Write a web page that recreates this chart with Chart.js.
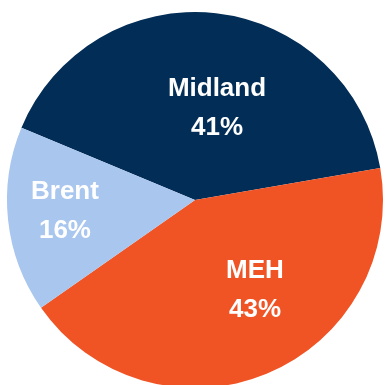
<!DOCTYPE html>
<html>
<head>
<meta charset="utf-8">
<title>Crude supply mix</title>
<script src="https://cdn.jsdelivr.net/npm/chart.js@4.4.1/dist/chart.umd.min.js"></script>
<style>
    html, body { margin: 0; padding: 0; background: #fff; overflow: hidden; }
    #wrap { position: absolute; left: 0; top: 0; width: 385px; height: 400px; }
</style>
</head>
<body>
<div id="wrap"><canvas id="mixChart" width="385" height="400"></canvas></div>
<script>
// Supply mix by source
const sources = ['Midland', 'MEH', 'Brent'];
const shares = [41, 43, 16];
const sliceColors = ['#022d56', '#f05425', '#a9c6ee'];

// Where each label sits inside its slice: fraction of the radius and a nudge off the mid-angle (degrees)
const labelPlacement = [
    { frac: 0.464, shift: 8.2 },
    { frac: 0.609, shift: -9.2 },
    { frac: 0.699, shift: -2.1 }
];

// Draws "Name / NN%" in white inside each slice
const sliceLabels = {
    id: 'sliceLabels',
    afterDatasetsDraw(chart) {
        const ctx = chart.ctx;
        const meta = chart.getDatasetMeta(0);
        ctx.save();
        ctx.fillStyle = '#ffffff';
        ctx.font = "bold 26px Arial, 'Liberation Sans', sans-serif";
        ctx.textAlign = 'center';
        ctx.textBaseline = 'alphabetic';
        meta.data.forEach((arc, i) => {
            const p = arc.getProps(['x', 'y', 'startAngle', 'endAngle', 'outerRadius'], true);
            const place = labelPlacement[i];
            const a = (p.startAngle + p.endAngle) / 2 + place.shift * Math.PI / 180;
            const d = p.outerRadius * place.frac;
            const x = p.x + Math.cos(a) * d;
            const y = p.y + Math.sin(a) * d;
            ctx.fillText(chart.data.labels[i], x, y - 19.5);
            ctx.fillText(chart.data.datasets[0].data[i] + '%', x, y + 19.5);
        });
        ctx.restore();
    }
};

new Chart(document.getElementById('mixChart'), {
    type: 'pie',
    data: {
        labels: sources,
        datasets: [{
            data: shares,
            backgroundColor: sliceColors,
            borderWidth: 0,
            hoverOffset: 0
        }]
    },
    options: {
        responsive: false,
        animation: false,
        rotation: -67.4,
        layout: {
            padding: { left: 7, top: 12, right: 2, bottom: 12 }
        },
        plugins: {
            legend: { display: false },
            tooltip: { enabled: false }
        }
    },
    plugins: [sliceLabels]
});
</script>
</body>
</html>
